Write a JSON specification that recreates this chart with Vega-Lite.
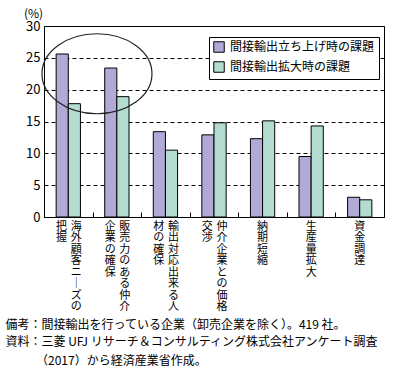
{
  "$schema": "https://vega.github.io/schema/vega-lite/v6.json",
  "width": 340,
  "height": 191,
  "autosize": {"type": "none"},
  "padding": {"left": 44, "top": 26, "right": 28, "bottom": 151},
  "config": {
    "font": "Noto Sans CJK JP",
    "view": {"stroke": "black", "strokeWidth": 1},
    "axis": {"labelColor": "black", "titleColor": "black"}
  },
  "title": {
    "text": "（2017）から経済産業省作成。",
    "orient": "bottom",
    "anchor": "start",
    "frame": "group",
    "dx": -8,
    "fontSize": 12,
    "fontWeight": "normal",
    "baseline": "top",
    "offset": 8.5,
    "color": "black"
  },
  "layer": [
    {
      "data": {
        "values": [
          {"cat": "海外顧客ニーズの把握", "series": "間接輸出立ち上げ時の課題", "value": 25.6},
          {"cat": "海外顧客ニーズの把握", "series": "間接輸出拡大時の課題", "value": 17.8},
          {"cat": "販売力のある仲介企業の確保", "series": "間接輸出立ち上げ時の課題", "value": 23.4},
          {"cat": "販売力のある仲介企業の確保", "series": "間接輸出拡大時の課題", "value": 18.9},
          {"cat": "輸出対応出来る人材の確保", "series": "間接輸出立ち上げ時の課題", "value": 13.4},
          {"cat": "輸出対応出来る人材の確保", "series": "間接輸出拡大時の課題", "value": 10.5},
          {"cat": "仲介企業との価格交渉", "series": "間接輸出立ち上げ時の課題", "value": 12.9},
          {"cat": "仲介企業との価格交渉", "series": "間接輸出拡大時の課題", "value": 14.8},
          {"cat": "納期短縮", "series": "間接輸出立ち上げ時の課題", "value": 12.3},
          {"cat": "納期短縮", "series": "間接輸出拡大時の課題", "value": 15.1},
          {"cat": "生産量拡大", "series": "間接輸出立ち上げ時の課題", "value": 9.5},
          {"cat": "生産量拡大", "series": "間接輸出拡大時の課題", "value": 14.3},
          {"cat": "資金調達", "series": "間接輸出立ち上げ時の課題", "value": 3.1},
          {"cat": "資金調達", "series": "間接輸出拡大時の課題", "value": 2.7}
        ]
      },
      "mark": {"type": "bar", "stroke": "black", "strokeWidth": 1},
      "encoding": {
        "x": {
          "field": "cat",
          "type": "nominal",
          "sort": null,
          "scale": {"paddingInner": 0, "paddingOuter": 0},
          "axis": {
            "title": ["備考：間接輸出を行っている企業（卸売企業を除く）。419 社。", "資料：三菱 UFJ リサーチ＆コンサルティング株式会社アンケート調査"],
            "titleAnchor": "start",
            "titleAlign": "left",
            "titleBaseline": "top",
            "titleX": -39,
            "titleY": 102.7,
            "titleFontSize": 12,
            "titleFontWeight": "normal",
            "titleLineHeight": 16.5,
            "orient": "bottom",
            "domainColor": "black",
            "tickBand": "extent",
            "tickColor": "black",
            "tickSize": -5,
            "labelAngle": 0,
            "labelAlign": "right",
            "labelOffset": {"condition": {"test": "indexof(['納期短縮','生産量拡大','資金調達'], datum.value) >= 0", "value": 5}, "value": 13},
            "labelBaseline": "top",
            "labelFontSize": 11,
            "labelLineHeight": 11.5,
            "labelPadding": 8,
            "labelOverlap": false,
            "labelBound": false,
            "labelLimit": 0,
            "labelExpr": "datum.value == '海外顧客ニーズの把握' ? ['把\u2004海','握\u2004外','顧','客','ニ','｜','ズ','の'] : datum.value == '販売力のある仲介企業の確保' ? ['企\u2004販','業\u2004売','の\u2004力','確\u2004の','保\u2004あ','る','仲','介'] : datum.value == '輸出対応出来る人材の確保' ? ['材\u2004輸','の\u2004出','確\u2004対','保\u2004応','出','来','る','人'] : datum.value == '仲介企業との価格交渉' ? ['交\u2004仲','渉\u2004介','企','業','と','の','価','格'] : datum.value == '納期短縮' ? ['納','期','短','縮'] : datum.value == '生産量拡大' ? ['生','産','量','拡','大'] : datum.value == '資金調達' ? ['資','金','調','達'] : ''"
          }
        },
        "xOffset": {
          "field": "series",
          "type": "nominal",
          "sort": ["間接輸出立ち上げ時の課題", "間接輸出拡大時の課題"],
          "scale": {"paddingInner": 0, "paddingOuter": 1}
        },
        "y": {
          "field": "value",
          "type": "quantitative",
          "scale": {"domain": [0, 30], "nice": false},
          "axis": {
            "title": "(%)",
            "titleAngle": 0,
            "titleAlign": "center",
            "titleBaseline": "middle",
            "titleX": -11,
            "titleY": -13,
            "titleFontSize": 12,
            "titleFontWeight": "normal",
            "values": [0, 5, 10, 15, 20, 25, 30],
            "grid": true,
            "gridColor": "black",
            "gridDash": [4, 3],
            "gridOpacity": 1,
            "ticks": false,
            "domain": false,
            "labelFontSize": 13,
            "labelPadding": 4,
            "labelOverlap": false
          }
        },
        "color": {
          "field": "series",
          "type": "nominal",
          "sort": ["間接輸出立ち上げ時の課題", "間接輸出拡大時の課題"],
          "scale": {"domain": ["間接輸出立ち上げ時の課題", "間接輸出拡大時の課題"], "range": ["#b3a9d6", "#b2ddd0"]},
          "legend": {
            "title": null,
            "orient": "none",
            "legendX": 165,
            "legendY": 11,
            "strokeColor": "black",
            "fillColor": "white",
            "padding": 4,
            "labelFontSize": 12,
            "labelColor": "black",
            "labelOffset": 5,
            "symbolType": "square",
            "symbolSize": 110,
            "symbolStrokeColor": "black",
            "symbolStrokeWidth": 1,
            "symbolOpacity": 1,
            "rowPadding": 4
          }
        }
      }
    },
    {
      "data": {"values": [{"cat": "海外顧客ニーズの把握", "value": 22.5}]},
      "mark": {
        "type": "point",
        "filled": false,
        "stroke": "#222222",
        "strokeWidth": 1.2,
        "opacity": 1,
        "size": 6400,
        "shape": "M -1.265 0 C -1.265 -0.5523 -0.6494 -1 0.11 -1 C 0.8694 -1 1.485 -0.5523 1.485 0 C 1.485 0.5523 0.8694 1 0.11 1 C -0.6494 1 -1.265 0.5523 -1.265 0 Z"
      },
      "encoding": {
        "x": {"field": "cat", "type": "nominal", "sort": null, "bandPosition": 1},
        "y": {
          "field": "value",
          "type": "quantitative",
          "axis": {
            "title": "(%)",
            "titleAngle": 0,
            "titleAlign": "center",
            "titleBaseline": "middle",
            "titleX": -11,
            "titleY": -13,
            "titleFontSize": 12,
            "titleFontWeight": "normal",
            "values": [0, 5, 10, 15, 20, 25, 30],
            "grid": true,
            "gridColor": "black",
            "gridDash": [4, 3],
            "gridOpacity": 1,
            "ticks": false,
            "domain": false,
            "labelFontSize": 13,
            "labelPadding": 4,
            "labelOverlap": false
          }
        }
      }
    }
  ]
}
